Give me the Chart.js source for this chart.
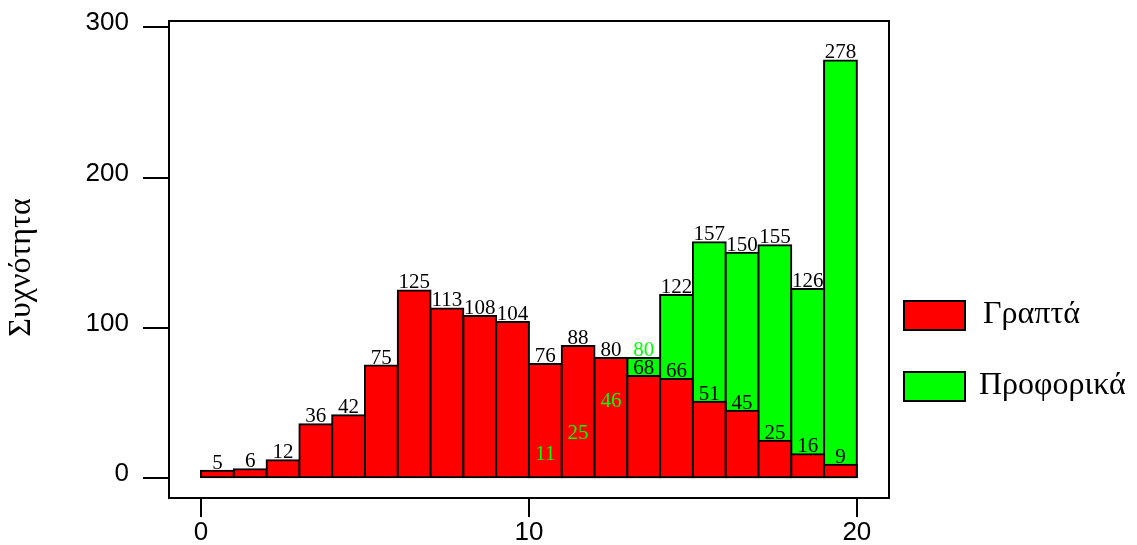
<!DOCTYPE html>
<html>
<head>
<meta charset="utf-8">
<script src="https://cdn.jsdelivr.net/npm/chart.js@4.4.1/dist/chart.umd.min.js"></script>
<style>
  html, body { margin: 0; padding: 0; background: #ffffff; }
  #wrap { width: 1137px; height: 545px; }
</style>
</head>
<body>
<div id="wrap"><canvas id="histChart" width="1137" height="545"></canvas></div>
<script>
// grade bins (width 1) on the 0-20 scale, given by their centres
const binCenters = [0.5, 1.5, 2.5, 3.5, 4.5, 5.5, 6.5, 7.5, 8.5, 9.5,
                    10.5, 11.5, 12.5, 13.5, 14.5, 15.5, 16.5, 17.5, 18.5, 19.5];
const writtenCounts = [5, 6, 12, 36, 42, 75, 125, 113, 108, 104,
                       76, 88, 80, 68, 66, 51, 45, 25, 16, 9];
const oralCounts = [null, null, null, null, null, null, null, null, null, null,
                    11, 25, 46, 80, 122, 157, 150, 155, 126, 278];
const seriesNames = ['Γραπτά', 'Προφορικά'];
const yAxisTitle = 'Συχνότητα';
const yTickValues = [0, 100, 200, 300];
const xTickValues = [0, 10, 20];

const RED = '#ff0000';
const GREEN = '#00ff00';

function toPoints(values) {
    return binCenters
        .map((x, i) => ({ x: x, y: values[i] }))
        .filter(p => p.y !== null);
}

// value labels over each bar
const barLabels = {
    id: 'barLabels',
    afterDatasetsDraw(chart) {
        const ctx = chart.ctx;
        ctx.save();
        ctx.font = '21px "Liberation Serif", "Times New Roman", serif';
        ctx.textAlign = 'center';
        ctx.textBaseline = 'alphabetic';
        chart.data.datasets.forEach((ds, di) => {
            const meta = chart.getDatasetMeta(di);
            meta.data.forEach((bar, i) => {
                const p = ds.data[i];
                // oral counts that sit inside/next to the written bars are printed in green
                ctx.fillStyle = (di === 1 && p.x < 14) ? GREEN : '#000000';
                ctx.fillText(String(p.y), bar.x, bar.y - 2);
            });
        });
        ctx.restore();
    }
};

// box round the plot area + legend on the right
const frameAndLegend = {
    id: 'frameAndLegend',
    afterDraw(chart) {
        const ctx = chart.ctx;
        const a = chart.chartArea;
        ctx.save();
        ctx.strokeStyle = '#000000';
        ctx.lineWidth = 2;
        ctx.strokeRect(a.left, a.top, a.right - a.left, a.bottom - a.top);

        const boxX = a.right + 14;
        const rowTops = [a.top + 279, a.top + 350];
        const textX = [boxX + 80, boxX + 76];
        ctx.font = '32px "Liberation Serif", "Times New Roman", serif';
        ctx.textAlign = 'left';
        ctx.textBaseline = 'alphabetic';
        chart.data.datasets.forEach((ds, i) => {
            const top = rowTops[i];
            ctx.fillStyle = ds.backgroundColor;
            ctx.fillRect(boxX, top, 63, 31);
            ctx.strokeRect(boxX + 1, top + 1, 61, 29);
            ctx.fillStyle = '#000000';
            ctx.fillText(ds.label, textX[i], top + 23);
        });
        ctx.restore();
    }
};

const ctx = document.getElementById('histChart').getContext('2d');
const histChart = new Chart(ctx, {
    type: 'bar',
    data: {
        datasets: [
            {
                label: seriesNames[0],
                data: toPoints(writtenCounts),
                backgroundColor: RED
            },
            {
                label: seriesNames[1],
                data: toPoints(oralCounts),
                backgroundColor: GREEN
            }
        ]
    },
    options: {
        responsive: false,
        animation: false,
        events: [],
        grouped: false,
        barPercentage: 1,
        categoryPercentage: 1,
        borderColor: '#000000',
        borderWidth: 2,
        borderSkipped: false,
        inflateAmount: 1,
        layout: { padding: { top: 21, right: 248, left: 0, bottom: 0 } },
        plugins: {
            legend: { display: false },
            tooltip: { enabled: false }
        },
        scales: {
            x: {
                type: 'linear',
                min: -0.976,
                max: 20.98,
                offset: false,
                grid: { offset: false, drawOnChartArea: false, drawTicks: true, tickLength: 19, color: '#000000', lineWidth: 2 },
                border: { display: false },
                afterBuildTicks: s => { s.ticks = xTickValues.map(v => ({ value: v })); },
                afterFit: s => {
                    s.height = 47;
                    s.paddingLeft = 0;
                    s.paddingRight = 0;
                },
                ticks: {
                    padding: 0,
                    color: '#000000',
                    font: { family: '"Liberation Sans", Arial, sans-serif', size: 26 },
                    callback: v => String(v)
                }
            },
            y: {
                type: 'linear',
                min: -13.1,
                max: 304.2,
                grid: { drawOnChartArea: false, drawTicks: true, tickLength: 26, color: '#000000', lineWidth: 2 },
                border: { display: false },
                afterBuildTicks: s => { s.ticks = yTickValues.map(v => ({ value: v })); },
                afterFit: s => {
                    s.width = 169;
                    s.paddingTop = 0;
                    s.paddingBottom = 0;
                },
                title: {
                    display: true,
                    text: yAxisTitle + '\u2002',
                    color: '#000000',
                    padding: { top: 2, bottom: 0 },
                    font: { family: '"Liberation Serif", "Times New Roman", serif', size: 32 }
                },
                ticks: {
                    padding: 14,
                    labelOffset: -4,
                    color: '#000000',
                    font: { family: '"Liberation Sans", Arial, sans-serif', size: 26 },
                    callback: v => String(v)
                }
            }
        }
    },
    plugins: [barLabels, frameAndLegend]
});
</script>
</body>
</html>
